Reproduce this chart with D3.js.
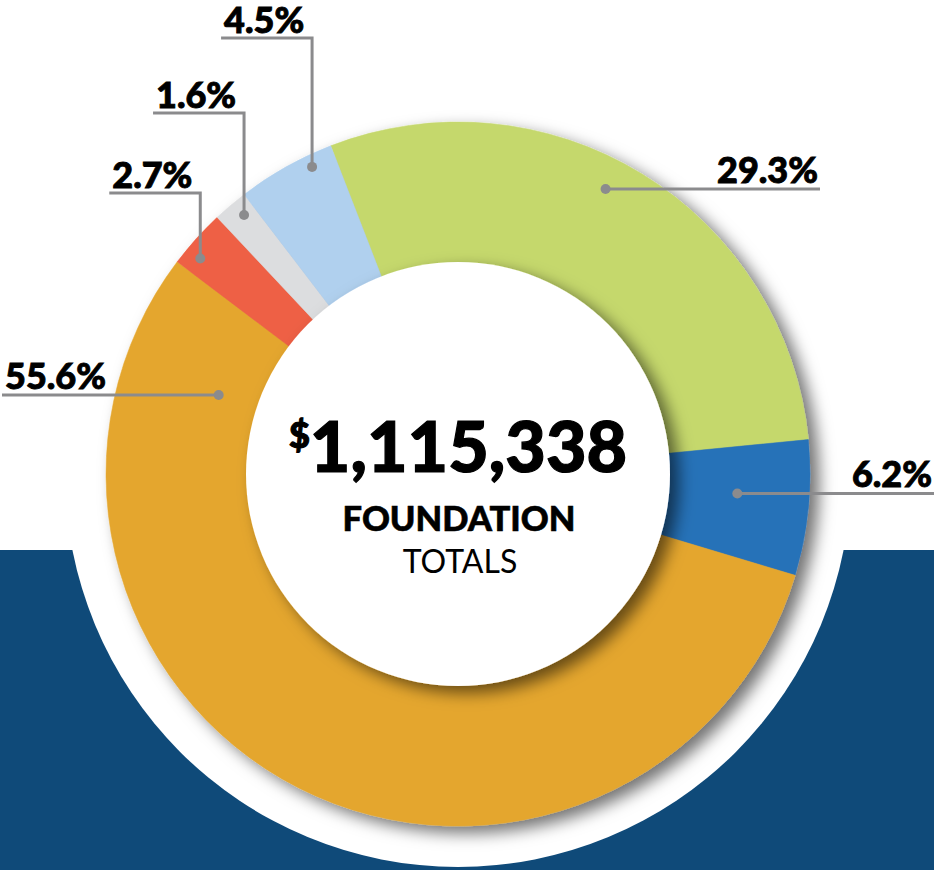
<!DOCTYPE html>
<html>
<head>
<meta charset="utf-8">
<script src="https://cdn.jsdelivr.net/npm/d3@7"></script>
<style>
  html, body { margin: 0; padding: 0; background: #fff; }
  svg { display: block; font-family: Lato, "Open Sans", sans-serif; }
</style>
</head>
<body>
<svg id="chart"></svg>
<script>
// data
const slices = ['s1', 's2', 's3', 's4', 's5', 's6'];
const shares = [29.3, 6.2, 55.6, 2.7, 1.6, 4.5];
const sliceColors = ['#c5d86c', '#2872b8', '#e4a62e', '#ee6144', '#dcdddf', '#b0d0ee'];
const labels = ['29.3%', '6.2%', '55.6%', '2.7%', '1.6%', '4.5%'];
const totalLabel = '1,115,338';
const titleBold = 'FOUNDATION';
const titleLight = 'TOTALS';

// label placement: where the dot sits inside its slice, and how the leader runs
const labelLayout = [
    { frac: 0.46, r: 321, kind: 'h', to: 820 },
    { frac: 0.43, r: 280, kind: 'h', to: 934 },
    { frac: 0.906, r: 252, kind: 'h', to: 2 },
    { frac: 0.29, r: 336, kind: 'v', elbow: 193 },
    { frac: 0.63, r: 336, kind: 'v', elbow: 113 },
    { frac: 0.74, r: 340, kind: 'v', elbow: 38 }
];

// dimensions
const width = 934;
const height = 870;
const cx = 458;
const cy = 474;
const outerR = 352;
const innerR = 212;
const cutR = 393;
const bandTop = 550;

const svg = d3.select('#chart')
    .attr('width', width)
    .attr('height', height);

const defs = svg.append('defs');
const shadow = defs.append('filter')
    .attr('id', 'shadow')
    .attr('x', '-20%').attr('y', '-20%')
    .attr('width', '140%').attr('height', '140%');
shadow.append('feDropShadow')
    .attr('dx', 9).attr('dy', 7)
    .attr('stdDeviation', 8)
    .attr('flood-color', '#000')
    .attr('flood-opacity', 0.55);

// navy band with white cut-out behind the donut
svg.append('rect')
    .attr('x', 0).attr('y', bandTop)
    .attr('width', width).attr('height', height - bandTop)
    .attr('fill', '#0f4a79');
svg.append('circle')
    .attr('cx', cx).attr('cy', cy).attr('r', cutR)
    .attr('fill', '#fff');

const data = slices.map((s, i) => ({ key: s, value: shares[i], color: sliceColors[i], label: labels[i], layout: labelLayout[i] }));

const startA = -21.2 * Math.PI / 180;
const pie = d3.pie()
    .sort(null)
    .value(d => d.value)
    .startAngle(startA)
    .endAngle(startA + 2 * Math.PI);

const arcs = pie(data);
const arc = d3.arc().innerRadius(0).outerRadius(outerR);

const g = svg.append('g').attr('transform', `translate(${cx},${cy})`);

const pieG = g.append('g').attr('filter', 'url(#shadow)');
pieG.selectAll('path')
    .data(arcs)
    .enter()
    .append('path')
    .attr('d', arc)
    .attr('fill', d => d.data.color)
    .attr('stroke', d => d.data.color)
    .attr('stroke-width', 0.5);

// donut hole
g.append('circle')
    .attr('r', innerR)
    .attr('fill', '#fff')
    .attr('filter', 'url(#shadow)');

// leaders + labels
const lineColor = '#8b8b8d';
const labelG = svg.append('g');

arcs.forEach(a => {
    const L = a.data.layout;
    const ang = a.startAngle + (a.endAngle - a.startAngle) * L.frac;
    const dx = cx + Math.sin(ang) * L.r;
    const dy = cy - Math.cos(ang) * L.r;
    let pts, tx, ty, anchor;
    if (L.kind === 'h') {
        pts = [[dx, dy], [L.to, dy]];
        anchor = L.to > dx ? 'end' : 'start';
        tx = L.to > dx ? L.to - 2 : L.to + 3;
        ty = dy - 6;
    } else {
        const left = dx - 91;
        pts = [[dx, dy], [dx, L.elbow], [left, L.elbow]];
        anchor = 'start';
        tx = left + 3;
        ty = L.elbow - 5;
    }
    labelG.append('path')
        .attr('d', d3.line()(pts))
        .attr('fill', 'none')
        .attr('stroke', lineColor)
        .attr('stroke-width', 3);
    labelG.append('circle')
        .attr('cx', dx).attr('cy', dy).attr('r', 5)
        .attr('fill', lineColor);
    labelG.append('text')
        .attr('x', tx).attr('y', ty)
        .attr('text-anchor', anchor)
        .style('font-size', '36px')
        .style('font-weight', 900)
        .attr('fill', '#000')
        .attr('stroke', '#000')
        .attr('stroke-width', 0.9)
        .text(a.data.label);
});

// center text
const total = g.append('text')
    .attr('x', 0).attr('y', -2)
    .attr('text-anchor', 'middle')
    .attr('fill', '#000')
    .attr('stroke', '#000')
    .attr('stroke-width', 1.2)
    .style('font-weight', 900);
total.append('tspan')
    .style('font-size', '36px')
    .attr('dy', -24)
    .text('$');
total.append('tspan')
    .style('font-size', '70px')
    .attr('dy', 24)
    .text(totalLabel);

g.append('text')
    .attr('x', 1).attr('y', 57)
    .attr('text-anchor', 'middle')
    .style('font-size', '34.5px')
    .style('font-weight', 900)
    .attr('fill', '#000')
    .attr('stroke', '#000')
    .attr('stroke-width', 0.6)
    .text(titleBold);

g.append('text')
    .attr('x', 2).attr('y', 99)
    .attr('text-anchor', 'middle')
    .style('font-size', '32px')
    .style('font-weight', 400)
    .attr('fill', '#000')
    .text(titleLight);
</script>
</body>
</html>
